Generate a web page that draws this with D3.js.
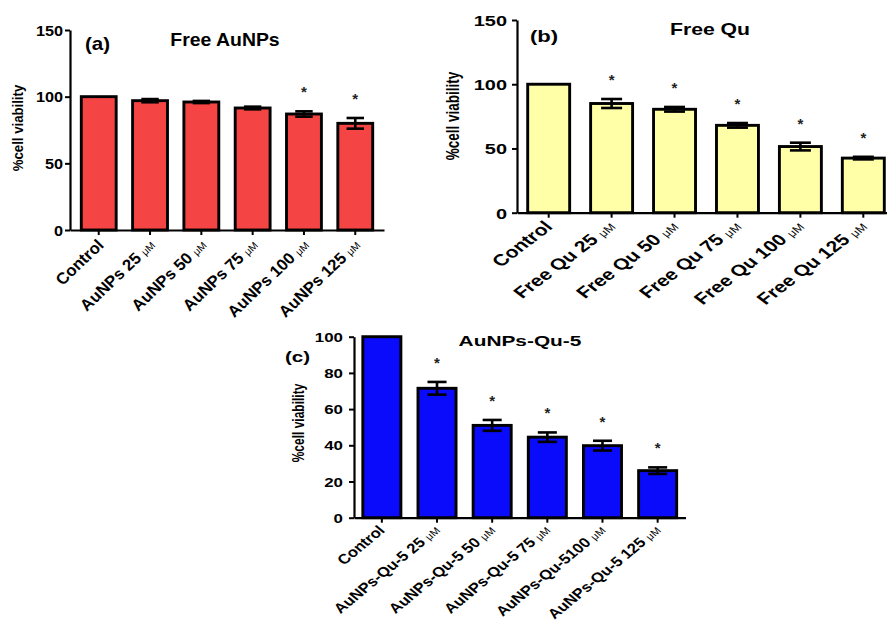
<!DOCTYPE html>
<html>
<head>
<meta charset="utf-8">
<script src="https://cdn.jsdelivr.net/npm/d3@7"></script>
<style>
  html, body { margin: 0; padding: 0; background: #fff; }
  svg { display: block; }
</style>
</head>
<body>
<svg id="chart" width="887" height="623"></svg>
<script>
// ---- data: % cell viability (mean, SEM) per treatment ----
const unitLabel = "\u03BCM";

const labelsA = ["Control", "AuNPs 25", "AuNPs 50", "AuNPs 75", "AuNPs 100", "AuNPs 125"];
const valuesA = [100, 97, 96, 91.5, 87, 80];
const errorsA = [0, 1.2, 0.8, 1, 2, 4];
const signifA = [false, false, false, false, true, true];
const ticksA = [0, 50, 100, 150];

const labelsB = ["Control", "Free Qu 25", "Free Qu 50", "Free Qu 75", "Free Qu 100", "Free Qu 125"];
const valuesB = [100, 85, 80.5, 68, 51.5, 42.5];
const errorsB = [0, 3.5, 1.8, 1.8, 3, 1];
const signifB = [false, true, true, true, true, true];
const ticksB = [0, 50, 100, 150];

const labelsC = ["Control", "AuNPs-Qu-5 25", "AuNPs-Qu-5 50", "AuNPs-Qu-5 75", "AuNPs-Qu-5100", "AuNPs-Qu-5 125"];
const valuesC = [100, 71.5, 51, 44.5, 39.8, 26];
const errorsC = [0, 3.5, 3, 2.6, 2.7, 1.8];
const signifC = [false, true, true, true, true, true];
const ticksC = [0, 20, 40, 60, 80, 100];

const FONT = "'Liberation Sans', Arial, Helvetica, sans-serif";
const svg = d3.select("#chart");
svg.append("rect").attr("width", 887).attr("height", 623).attr("fill", "#fff");

// ---- panel layout (text is drawn a little wide, sx = horizontal scale) ----
const panels = [
  { labels: labelsA, values: valuesA, errors: errorsA, signif: signifA, ticks: ticksA, max: 150,
    fill: "#f54444", x0: 70, x1: 384, yTop: 30, yBot: 230, pi: 0.32, po: 0.22,
    tickFont: 14, tickSx: 1.16, tickPad: 7,
    xFont: 16, xSx: 1.05, unitFont: 10, xLabDx: 6, xLabDy: 16,
    title: "Free AuNPs", titleX: 225, titleY: 46, titleFont: 17.5, titleSx: 1.11,
    tag: "(a)", tagX: 85, tagY: 50, tagFont: 18, tagSx: 1.14,
    yLabX: 18.5, yLabY: 128, yLabFont: 13.2, yLabSx: 1.08 },
  { labels: labelsB, values: valuesB, errors: errorsB, signif: signifB, ticks: ticksB, max: 150,
    fill: "#ffffa8", x0: 517, x1: 895, yTop: 20, yBot: 212.7, pi: 0.333, po: 0.17,
    tickFont: 15, tickSx: 1.33, tickPad: 10,
    xFont: 16, xSx: 1.32, unitFont: 10, xLabDx: 5, xLabDy: 15,
    title: "Free Qu", titleX: 710, titleY: 35, titleFont: 16.3, titleSx: 1.3,
    tag: "(b)", tagX: 530, tagY: 42, tagFont: 17, tagSx: 1.3,
    yLabX: 452.5, yLabY: 116, yLabFont: 13.5, yLabSx: 1.3 },
  { labels: labelsC, values: valuesC, errors: errorsC, signif: signifC, ticks: ticksC, max: 100,
    fill: "#0b0bfb", x0: 354, x1: 685.5, yTop: 336.7, yBot: 517.7, pi: 0.31, po: 0.16,
    tickFont: 12.5, tickSx: 1.35, tickPad: 11,
    xFont: 13.8, xSx: 1.21, unitFont: 9.5, xLabDx: 4, xLabDy: 13.5,
    title: "AuNPs-Qu-5", titleX: 520, titleY: 346, titleFont: 15, titleSx: 1.39,
    tag: "(c)", tagX: 285, tagY: 362, tagFont: 15, tagSx: 1.37,
    yLabX: 299, yLabY: 423, yLabFont: 12, yLabSx: 1.3 }
];

function drawPanel(p) {
  const g = svg.append("g");
  const x = d3.scaleBand().domain(p.labels).range([p.x0, p.x1])
    .paddingInner(p.pi).paddingOuter(p.po);
  const y = d3.scaleLinear().domain([0, p.max]).range([p.yBot, p.yTop]);
  const place = (tx, ty, sx, rot) =>
    `translate(${tx},${ty}) scale(${sx},1)` + (rot ? ` rotate(${rot})` : "");

  const rows = p.labels.map((label, i) => ({
    label, value: p.values[i], err: p.errors[i], sig: p.signif[i]
  }));
  const cx = d => x(d.label) + x.bandwidth() / 2;

  // bars
  g.selectAll("rect.bar").data(rows).join("rect")
    .attr("class", "bar")
    .attr("x", d => x(d.label))
    .attr("width", x.bandwidth())
    .attr("y", d => y(d.value))
    .attr("height", d => y(0) - y(d.value))
    .attr("fill", p.fill)
    .attr("stroke", "#000")
    .attr("stroke-width", 2.9);

  // error bars (mean ± SEM)
  const capW = x.bandwidth() * 0.5;
  const eb = g.selectAll("g.err").data(rows.filter(d => d.err > 0)).join("g")
    .attr("class", "err")
    .attr("stroke", "#000")
    .attr("stroke-width", 2.6);
  eb.append("line")
    .attr("x1", cx).attr("x2", cx)
    .attr("y1", d => y(d.value - d.err)).attr("y2", d => y(d.value + d.err));
  eb.append("line")
    .attr("x1", d => cx(d) - capW / 2).attr("x2", d => cx(d) + capW / 2)
    .attr("y1", d => y(d.value + d.err)).attr("y2", d => y(d.value + d.err));
  eb.append("line")
    .attr("x1", d => cx(d) - capW / 2).attr("x2", d => cx(d) + capW / 2)
    .attr("y1", d => y(d.value - d.err)).attr("y2", d => y(d.value - d.err));

  // significance markers
  g.selectAll("text.star").data(rows.filter(d => d.sig)).join("text")
    .attr("class", "star")
    .attr("transform", d => place(cx(d), y(d.value + d.err) - 14, 1))
    .attr("text-anchor", "middle")
    .attr("font-family", FONT)
    .attr("font-weight", "bold")
    .attr("font-size", 15)
    .attr("fill", "#222")
    .text("*");

  // y axis
  const ya = g.append("g")
    .attr("transform", `translate(${p.x0},0)`)
    .call(d3.axisLeft(y).tickValues(p.ticks).tickSize(5).tickSizeOuter(0))
    .attr("font-family", FONT)
    .attr("font-size", p.tickFont)
    .attr("font-weight", "bold");
  ya.select(".domain").attr("stroke", "#000").attr("stroke-width", 2.2);
  ya.selectAll(".tick line").attr("stroke", "#000").attr("stroke-width", 2);
  ya.selectAll(".tick text")
    .attr("x", null).attr("dy", null)
    .attr("fill", "#000")
    .attr("transform", place(-p.tickPad, p.tickFont * 0.36, p.tickSx));

  // x axis
  const xa = g.append("g")
    .attr("transform", `translate(0,${p.yBot})`)
    .call(d3.axisBottom(x).tickSize(5).tickSizeOuter(0))
    .attr("font-family", FONT)
    .attr("font-size", p.xFont)
    .attr("font-weight", "bold");
  xa.select(".domain").attr("stroke", "#000").attr("stroke-width", 2.2);
  xa.selectAll(".tick line").attr("stroke", "#000").attr("stroke-width", 2);
  xa.selectAll(".tick text").each(function (label) {
    const t = d3.select(this);
    t.text(null)
      .attr("y", null).attr("dy", null)
      .attr("fill", "#000")
      .attr("text-anchor", "end")
      .attr("transform", place(p.xLabDx, p.xLabDy, p.xSx, -45));
    t.append("tspan").text(label === "Control" ? label : label + " ");
    if (label !== "Control") {
      t.append("tspan")
        .attr("font-size", p.unitFont)
        .attr("font-weight", "normal")
        .text(unitLabel);
    }
  });

  // y axis title
  g.append("text")
    .attr("transform", place(p.yLabX, p.yLabY, p.yLabSx, -90))
    .attr("text-anchor", "middle")
    .attr("dy", "0.35em")
    .attr("font-family", FONT)
    .attr("font-weight", "bold")
    .attr("font-size", p.yLabFont)
    .text("%cell viability");

  // panel title and tag
  g.append("text")
    .attr("transform", place(p.titleX, p.titleY, p.titleSx))
    .attr("text-anchor", "middle")
    .attr("font-family", FONT)
    .attr("font-weight", "bold")
    .attr("font-size", p.titleFont)
    .text(p.title);
  g.append("text")
    .attr("transform", place(p.tagX, p.tagY, p.tagSx))
    .attr("font-family", FONT)
    .attr("font-weight", "bold")
    .attr("font-size", p.tagFont)
    .text(p.tag);
}

panels.forEach(drawPanel);
</script>
</body>
</html>
